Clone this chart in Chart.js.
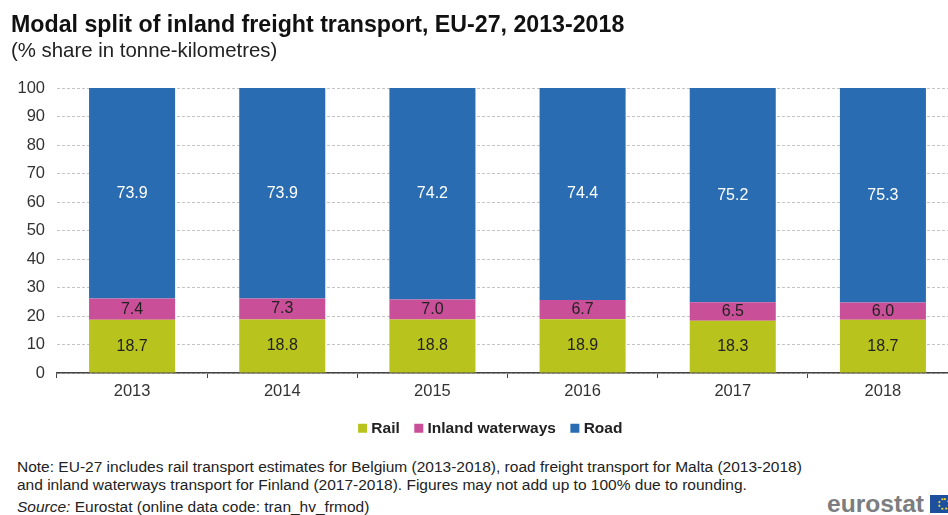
<!DOCTYPE html>
<html>
<head>
<meta charset="utf-8">
<style>
html, body { margin: 0; padding: 0; width: 948px; height: 515px; overflow: hidden; background: #fff; }
body { position: relative; font-family: "Liberation Sans", Arial, sans-serif; color: #222; }
#wrap { position: absolute; left: 0; top: 0; width: 980px; height: 452px; }
.txt { position: absolute; white-space: nowrap; }
#title { left: 11px; top: 11px; font-size: 23.2px; font-weight: bold; color: #111; }
#sub { left: 11px; top: 39px; font-size: 20.4px; color: #222; }
.note { left: 17px; font-size: 15.5px; color: #222; }
#logo { left: 827px; top: 490px; font-size: 24.6px; font-weight: bold; color: #7b7d80; }
#flag { position: absolute; left: 930px; top: 495px; width: 30px; height: 18px; background: #1d4f9c; }
#flag div { position: absolute; left: 8px; top: 3px; width: 8px; height: 8px; border: 2px dotted #e3d23c; border-radius: 50%; }
</style>
</head>
<body>
<div id="wrap"><canvas id="modalChart" width="980" height="452"></canvas></div>
<div class="txt" id="title">Modal split of inland freight transport, EU-27, 2013-2018</div>
<div class="txt" id="sub">(% share in tonne-kilometres)</div>
<div class="txt note" style="top:458px">Note: EU-27 includes rail transport estimates for Belgium (2013-2018), road freight transport for Malta (2013-2018)</div>
<div class="txt note" style="top:476px">and inland waterways transport for Finland (2017-2018). Figures may not add up to 100% due to rounding.</div>
<div class="txt note" style="top:498px"><i>Source:</i> Eurostat (online data code: tran_hv_frmod)</div>
<div class="txt" id="logo">eurostat</div>
<div id="flag"><div></div></div>

<script src="https://cdn.jsdelivr.net/npm/chart.js@4"></script>
<script>
const years = ["2013", "2014", "2015", "2016", "2017", "2018"];
const rail = [18.7, 18.8, 18.8, 18.9, 18.3, 18.7];
const waterways = [7.4, 7.3, 7.0, 6.7, 6.5, 6.0];
const road = [73.9, 73.9, 74.2, 74.4, 75.2, 75.3];

const fontFamily = '"Liberation Sans", Arial, sans-serif';

// no datalabels plugin available, so write the values in the bars here
const barValues = {
	id: "barValues",
	afterDatasetsDraw(chart) {
		const ctx = chart.ctx;
		ctx.save();
		ctx.font = "16px " + fontFamily;
		ctx.textAlign = "center";
		ctx.textBaseline = "middle";
		chart.data.datasets.forEach((ds, i) => {
			ctx.fillStyle = i === 2 ? "#ffffff" : "#222222";
			chart.getDatasetMeta(i).data.forEach((bar, j) => {
				const mid = bar.getCenterPoint();
				ctx.fillText(ds.data[j].toFixed(1), mid.x, mid.y);
			});
		});
		ctx.restore();
	},
};

// legend sits right of the plot centre in the source
const shiftLegend = {
	id: "shiftLegend",
	afterLayout(chart) {
		chart.legend.left += 13;
		chart.legend.right += 13;
	},
};

const ctxModal = document.getElementById("modalChart").getContext("2d");
const modalChart = new Chart(ctxModal, {
	type: "bar",
	data: {
		labels: years,
		datasets: [
			{ label: "Rail", data: rail, backgroundColor: "#b9c31d" },
			{ label: "Inland waterways", data: waterways, backgroundColor: "#c94f98" },
			{ label: "Road", data: road, backgroundColor: "#2a6cb1" },
		],
	},
	options: {
		responsive: false,
		maintainAspectRatio: false,
		animation: false,
		devicePixelRatio: 1,
		barPercentage: 0.573,
		categoryPercentage: 1,
		layout: { padding: { top: 88, right: 22, bottom: 6, left: 0 } },
		plugins: {
			tooltip: { enabled: false },
			legend: {
				position: "bottom",
				labels: {
					// thin box with a thick stroke keeps the marker close to its text
					boxWidth: 2,
					boxHeight: 2,
					padding: 18,
					color: "#222",
					font: { family: fontFamily, size: 15.5, weight: "bold" },
					generateLabels(chart) {
						return Chart.defaults.plugins.legend.labels.generateLabels(chart).map((item) => {
							item.strokeStyle = item.fillStyle;
							item.lineWidth = 7;
							return item;
						});
					},
				},
			},
		},
		scales: {
			x: {
				stacked: true,
				afterFit(scale) { scale.height = 29.5; },
				border: { color: "#444", width: 1.5 },
				grid: { drawOnChartArea: false, drawTicks: true, tickLength: 5, tickColor: "#444", offset: true },
				ticks: {
					color: "#333",
					padding: 4,
					maxRotation: 0,
					font: { family: fontFamily, size: 16.5 },
				},
			},
			y: {
				stacked: true,
				min: 0,
				max: 100,
				afterFit(scale) { scale.width = 57; },
				border: { display: false, dash: [3, 2] },
				grid: { color: "#c4c4c4", tickLength: 0, lineWidth: 1 },
				ticks: {
					stepSize: 10,
					color: "#333",
					padding: 12,
					font: { family: fontFamily, size: 16.5 },
				},
			},
		},
	},
	plugins: [barValues, shiftLegend],
});
</script>
</body>
</html>
